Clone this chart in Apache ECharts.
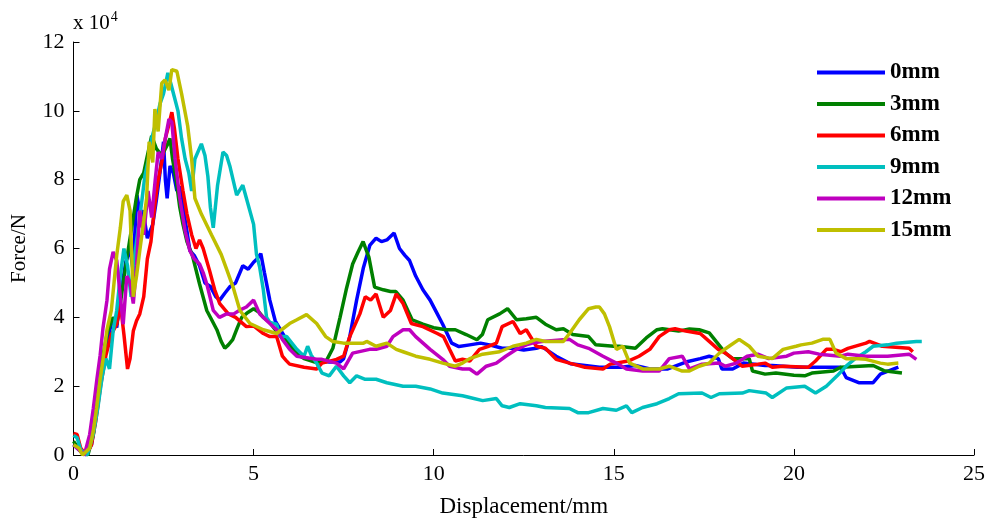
<!DOCTYPE html>
<html>
<head>
<meta charset="utf-8">
<script src="https://cdn.jsdelivr.net/npm/echarts@6/dist/echarts.min.js"></script>
<style>html,body{margin:0;padding:0;background:#fff}#c{width:988px;height:523px}</style>
</head>
<body>
<div id="c"></div>
<script>
const seriesNames = ['0mm','3mm','6mm','9mm','12mm','15mm'];
const seriesColors = ['#0000FF','#008000','#FF0000','#00BFBF','#BF00BF','#BFBF00'];
const xTicks = [0,5,10,15,20,25];
const yTicks = [0,2,4,6,8,10,12];

const d0mm = [[0,0.3],[0.2,0.1],[0.35,0],[0.5,0.3],[0.65,1.3],[0.8,2.5],[0.95,3.4],[1.1,4.0],[1.2,3.7],[1.3,4.6],[1.45,5.6],[1.57,6.0],[1.65,5.4],[1.76,7.55],[1.85,7.0],[1.93,7.1],[2.05,6.3],[2.2,6.7],[2.3,7.4],[2.4,8.2],[2.5,9.1],[2.55,8.0],[2.6,7.46],[2.68,8.4],[2.77,8.2],[2.87,7.67],[2.95,7.8],[3.04,7.2],[3.15,6.5],[3.23,5.94],[3.35,5.8],[3.5,5.5],[3.65,5.0],[3.8,4.9],[3.95,4.6],[4.06,4.5],[4.2,4.7],[4.35,4.9],[4.5,5.0],[4.7,5.5],[4.85,5.4],[5.0,5.6],[5.1,5.7],[5.2,5.85],[5.3,5.3],[5.45,4.5],[5.6,3.9],[5.86,3.44],[6.0,3.1],[6.2,2.9],[6.5,2.8],[6.8,2.75],[7.1,2.7],[7.4,2.7],[7.5,2.8],[7.67,3.44],[7.86,4.5],[8.05,5.45],[8.23,6.1],[8.4,6.3],[8.55,6.2],[8.7,6.25],[8.9,6.45],[9.05,6.0],[9.2,5.8],[9.33,5.65],[9.5,5.2],[9.7,4.8],[9.9,4.5],[10.1,4.1],[10.25,3.8],[10.5,3.25],[10.7,3.15],[11.0,3.2],[11.3,3.25],[11.55,3.2],[11.9,3.1],[12.2,3.1],[12.5,3.05],[12.85,3.1],[13.0,3.15],[13.4,2.87],[13.8,2.65],[14.2,2.6],[14.6,2.55],[15.2,2.55],[15.6,2.6],[16.0,2.5],[16.5,2.5],[17.0,2.7],[17.4,2.8],[17.65,2.87],[17.9,2.8],[18.0,2.5],[18.3,2.5],[18.6,2.67],[19.2,2.6],[19.4,2.6],[20.1,2.55],[20.4,2.55],[21.3,2.55],[21.45,2.25],[21.8,2.1],[22.2,2.1],[22.4,2.35],[22.9,2.55]];

const d3mm = [[0,0.4],[0.2,0.1],[0.4,0],[0.55,0.6],[0.64,1.35],[0.74,2.2],[0.82,2.9],[0.95,3.6],[1.1,4.0],[1.2,3.8],[1.3,4.4],[1.45,5.5],[1.6,6.5],[1.75,7.5],[1.84,8.0],[1.95,8.2],[2.03,8.6],[2.17,9.27],[2.3,8.9],[2.45,8.7],[2.6,9.0],[2.68,9.2],[2.75,8.6],[2.85,8.0],[2.95,7.2],[3.04,6.7],[3.15,6.2],[3.3,5.8],[3.5,4.97],[3.7,4.2],[3.85,3.9],[3.98,3.64],[4.1,3.3],[4.2,3.1],[4.3,3.2],[4.42,3.35],[4.55,3.7],[4.67,4.0],[4.85,4.15],[5.0,4.25],[5.15,4.15],[5.27,4.0],[5.45,3.85],[5.7,3.5],[6.0,3.25],[6.2,2.95],[6.4,2.8],[6.7,2.7],[7.0,2.7],[7.2,3.1],[7.4,4.0],[7.57,4.8],[7.75,5.55],[7.9,5.9],[8.04,6.2],[8.2,5.75],[8.36,4.88],[8.6,4.8],[8.8,4.75],[8.95,4.75],[9.15,4.5],[9.4,3.93],[9.7,3.8],[10.0,3.7],[10.35,3.64],[10.6,3.64],[10.9,3.5],[11.2,3.35],[11.35,3.5],[11.5,3.93],[11.83,4.1],[12.05,4.25],[12.3,3.93],[12.57,3.96],[12.85,4.0],[13.1,3.8],[13.4,3.64],[13.6,3.67],[13.86,3.5],[14.3,3.44],[14.5,3.2],[15.0,3.16],[15.15,3.16],[15.6,3.1],[15.9,3.4],[16.2,3.64],[16.35,3.67],[16.8,3.6],[17.1,3.66],[17.37,3.64],[17.65,3.55],[17.84,3.3],[18.1,2.96],[18.3,2.8],[18.76,2.8],[18.85,2.44],[19.2,2.35],[19.5,2.38],[20.0,2.32],[20.3,2.3],[20.5,2.38],[21.1,2.44],[21.3,2.55],[22.2,2.6],[22.5,2.45],[23.0,2.38]];

const d6mm = [[0,0.63],[0.1,0.6],[0.2,0.2],[0.35,0.0],[0.5,0.3],[0.62,1.0],[0.75,2.0],[0.9,2.9],[1.05,3.5],[1.2,3.8],[1.3,4.4],[1.4,3.5],[1.5,2.5],[1.57,2.8],[1.66,3.6],[1.75,3.9],[1.84,4.1],[1.95,4.6],[2.05,5.7],[2.15,6.2],[2.25,7.2],[2.35,8.0],[2.45,8.5],[2.55,9.2],[2.65,9.6],[2.73,9.96],[2.8,9.5],[2.9,8.6],[3.04,7.67],[3.15,7.0],[3.28,6.4],[3.4,6.0],[3.5,6.25],[3.6,6.0],[3.78,5.35],[3.92,4.8],[4.06,4.4],[4.3,4.1],[4.5,4.0],[4.8,3.73],[5.0,3.75],[5.27,3.53],[5.45,3.44],[5.64,3.44],[5.8,2.87],[5.9,2.75],[6.0,2.64],[6.4,2.55],[6.75,2.5],[6.9,2.67],[7.3,2.78],[7.5,2.87],[7.67,3.44],[7.95,4.1],[8.1,4.6],[8.25,4.5],[8.4,4.68],[8.6,4.0],[8.8,4.2],[8.96,4.68],[9.15,4.4],[9.38,3.82],[9.7,3.73],[10.1,3.53],[10.27,3.44],[10.44,3.07],[10.6,2.73],[10.8,2.78],[11.0,2.73],[11.27,3.07],[11.5,3.15],[11.74,3.25],[11.9,3.73],[12.2,3.88],[12.4,3.53],[12.57,3.64],[12.85,3.16],[13.1,3.1],[13.4,2.78],[13.77,2.67],[14.2,2.55],[14.7,2.5],[14.9,2.64],[15.4,2.73],[15.7,2.87],[16.0,3.07],[16.26,3.44],[16.54,3.64],[16.7,3.67],[17.0,3.6],[17.4,3.53],[17.65,3.3],[17.9,3.07],[18.1,2.96],[18.3,2.8],[18.56,2.58],[19.0,2.64],[19.2,2.67],[19.4,2.55],[19.7,2.58],[20.4,2.55],[20.6,2.73],[20.9,3.07],[21.1,3.07],[21.3,3.0],[21.5,3.1],[22.0,3.25],[22.1,3.3],[22.45,3.16],[23.2,3.1],[23.3,3.0]];

const d9mm = [[0,0.57],[0.1,0.5],[0.2,0.15],[0.38,0.0],[0.55,0.6],[0.68,1.4],[0.8,2.3],[0.9,2.8],[1.0,2.5],[1.1,3.6],[1.2,4.2],[1.3,5.2],[1.4,6.0],[1.5,5.5],[1.6,4.6],[1.7,5.8],[1.8,6.6],[1.9,7.4],[1.98,8.1],[2.08,8.6],[2.17,9.2],[2.3,9.7],[2.4,10.2],[2.5,10.5],[2.62,11.1],[2.7,10.8],[2.8,10.4],[2.9,10.0],[3.0,9.2],[3.1,8.6],[3.2,8.2],[3.28,7.67],[3.37,8.6],[3.55,9.04],[3.65,8.7],[3.73,8.1],[3.8,7.2],[3.88,6.6],[4.0,7.84],[4.15,8.8],[4.25,8.7],[4.34,8.4],[4.53,7.55],[4.7,7.84],[4.8,7.46],[5.0,6.7],[5.08,5.83],[5.17,5.45],[5.27,4.8],[5.36,4.0],[5.45,3.85],[5.64,3.8],[5.73,3.44],[5.92,3.44],[6.2,3.07],[6.4,2.87],[6.5,3.16],[6.6,2.9],[6.75,2.67],[6.9,2.38],[7.1,2.3],[7.3,2.58],[7.5,2.3],[7.67,2.1],[7.86,2.3],[8.1,2.2],[8.4,2.2],[8.7,2.1],[9.15,2.0],[9.5,2.0],[9.9,1.92],[10.25,1.8],[10.8,1.72],[11.0,1.67],[11.36,1.58],[11.74,1.64],[11.9,1.43],[12.1,1.38],[12.4,1.49],[12.85,1.43],[13.1,1.38],[13.77,1.35],[14.0,1.23],[14.3,1.23],[14.7,1.35],[15.07,1.3],[15.35,1.43],[15.5,1.23],[15.8,1.38],[16.2,1.49],[16.54,1.64],[16.8,1.78],[17.45,1.8],[17.7,1.67],[17.93,1.78],[18.57,1.8],[18.76,1.87],[19.23,1.8],[19.4,1.67],[19.8,1.95],[20.3,2.0],[20.6,1.8],[20.9,2.0],[21.2,2.3],[21.45,2.58],[21.7,2.8],[22.0,3.0],[22.2,3.16],[22.6,3.2],[22.85,3.25],[23.4,3.3],[23.55,3.3]];

const d12mm = [[0,0.3],[0.2,0.1],[0.3,0],[0.45,0.6],[0.55,1.35],[0.65,2.2],[0.74,2.9],[0.82,3.7],[0.93,4.5],[1.0,5.4],[1.1,5.9],[1.2,5.65],[1.3,4.6],[1.38,3.8],[1.48,5.2],[1.57,5.0],[1.66,4.4],[1.75,5.5],[1.84,7.1],[1.95,6.4],[2.07,7.67],[2.17,6.9],[2.27,8.0],[2.35,8.8],[2.45,8.6],[2.55,9.2],[2.65,9.76],[2.73,9.67],[2.82,8.6],[2.95,7.46],[3.1,6.5],[3.23,5.94],[3.35,5.7],[3.5,5.55],[3.6,5.3],[3.7,4.97],[3.88,4.2],[4.05,4.0],[4.25,4.1],[4.45,4.1],[4.6,4.2],[4.8,4.3],[5.0,4.5],[5.17,4.1],[5.45,3.82],[5.64,3.64],[5.8,3.36],[6.0,3.07],[6.2,2.87],[6.75,2.78],[6.9,2.78],[7.3,2.67],[7.5,2.5],[7.75,2.96],[8.22,3.07],[8.4,3.07],[8.7,3.16],[8.87,3.44],[9.15,3.64],[9.33,3.64],[9.5,3.44],[9.9,3.07],[10.25,2.78],[10.44,2.58],[10.8,2.5],[11.0,2.5],[11.2,2.35],[11.46,2.58],[11.74,2.67],[12.0,2.87],[12.3,3.07],[12.57,3.2],[12.74,3.25],[13.0,3.3],[13.77,3.36],[14.0,3.2],[14.3,3.1],[14.7,2.87],[15.07,2.67],[15.35,2.5],[15.8,2.44],[16.26,2.44],[16.54,2.8],[16.9,2.87],[17.1,2.5],[17.45,2.64],[17.93,2.67],[18.1,2.58],[18.4,2.67],[18.7,2.87],[19.0,2.93],[19.3,2.8],[19.8,2.87],[20.0,2.96],[20.4,3.0],[20.7,2.93],[21.3,2.87],[21.5,2.93],[22.0,2.87],[22.6,2.87],[23.2,2.93],[23.4,2.78]];

const d15mm = [[0,0.3],[0.15,0.2],[0.25,0],[0.45,0.2],[0.55,0.7],[0.64,1.35],[0.74,2.2],[0.82,2.78],[0.93,3.64],[1.05,4.2],[1.2,5.8],[1.3,6.6],[1.38,7.37],[1.48,7.55],[1.57,7.1],[1.66,4.6],[1.75,5.2],[1.84,5.94],[1.95,6.8],[2.03,7.46],[2.1,9.1],[2.2,8.5],[2.26,10.05],[2.35,9.4],[2.45,10.8],[2.54,10.9],[2.65,10.6],[2.73,11.2],[2.87,11.15],[3.0,10.5],[3.17,9.56],[3.28,8.6],[3.37,7.46],[3.55,7.0],[3.83,6.4],[4.1,5.83],[4.25,5.4],[4.43,4.88],[4.62,4.2],[4.9,3.82],[5.27,3.64],[5.64,3.53],[6.0,3.82],[6.2,3.93],[6.47,4.08],[6.75,3.82],[7.0,3.44],[7.2,3.3],[7.5,3.25],[8.05,3.25],[8.14,3.3],[8.4,3.16],[8.7,3.25],[8.96,3.07],[9.15,3.0],[9.5,2.87],[9.9,2.78],[10.25,2.67],[10.6,2.58],[10.8,2.67],[11.0,2.8],[11.36,2.93],[11.83,3.0],[12.2,3.16],[12.57,3.25],[12.85,3.36],[13.1,3.3],[13.6,3.3],[13.77,3.53],[14.04,3.93],[14.3,4.25],[14.5,4.3],[14.6,4.3],[14.74,4.1],[14.88,3.73],[15.07,3.07],[15.25,3.16],[15.44,2.67],[15.8,2.5],[16.26,2.5],[16.54,2.58],[16.9,2.44],[17.1,2.44],[17.37,2.58],[17.65,2.67],[17.93,2.96],[18.2,3.16],[18.48,3.36],[18.76,3.16],[19.0,2.87],[19.4,2.8],[19.7,3.07],[20.06,3.16],[20.2,3.2],[20.5,3.25],[20.8,3.36],[21.0,3.36],[21.17,2.96],[21.45,2.8],[21.8,2.8],[22.0,2.78],[22.4,2.67],[22.6,2.64],[22.9,2.67]];

const seriesData = [d0mm, d3mm, d6mm, d9mm, d12mm, d15mm];

const FONT = '"Liberation Serif", "Times New Roman", serif';
const chart = echarts.init(document.getElementById('c'), null, {renderer: 'canvas'});
chart.setOption({
  animation: false,
  backgroundColor: '#fff',
  grid: {left: 73.5, right: 13, top: 42, bottom: 63, containLabel: false},
  xAxis: {
    type: 'value', min: xTicks[0], max: xTicks[xTicks.length-1], interval: 5,
    name: 'Displacement/mm', nameLocation: 'middle', nameGap: 40,
    nameTextStyle: {fontFamily: FONT, fontSize: 23, color: '#000'},
    axisLine: {show: true, onZero: false, lineStyle: {color: '#000', width: 1}},
    axisTick: {show: true, inside: true, length: 6, lineStyle: {color: '#000'}},
    axisLabel: {fontFamily: FONT, fontSize: 22, color: '#000', margin: 8},
    splitLine: {show: false}
  },
  yAxis: {
    type: 'value', min: yTicks[0], max: yTicks[yTicks.length-1], interval: 2,
    name: 'Force/N', nameLocation: 'middle', nameGap: 44, nameRotate: 90,
    nameTextStyle: {fontFamily: FONT, fontSize: 21, color: '#000'},
    axisLine: {show: true, onZero: false, lineStyle: {color: '#000', width: 1}},
    axisTick: {show: true, inside: true, length: 6, lineStyle: {color: '#000'}},
    axisLabel: {fontFamily: FONT, fontSize: 22, color: '#000', margin: 9},
    splitLine: {show: false}
  },
  legend: {
    orient: 'vertical', left: 817, top: 61, padding: 0,
    icon: 'rect', itemWidth: 68, itemHeight: 4, itemGap: 8.5,
    textStyle: {fontFamily: FONT, fontSize: 23, fontWeight: 'bold', color: '#000', lineHeight: 23},
    data: seriesNames
  },
  graphic: [{
    type: 'text', left: 73, top: 10,
    style: {
      text: 'x 10{s|4}',
      font: '21px ' + FONT, fill: '#000',
      rich: {s: {fontFamily: FONT, fontSize: 14, verticalAlign: 'top', padding: [0,0,12,1]}}
    }
  }],
  series: seriesNames.map((n, i) => ({
    name: n, type: 'line', data: seriesData[i], showSymbol: false, smooth: false,
    color: seriesColors[i], lineStyle: {width: 3.5, color: seriesColors[i]}, z: 2 + i
  }))
});
</script>
</body>
</html>
